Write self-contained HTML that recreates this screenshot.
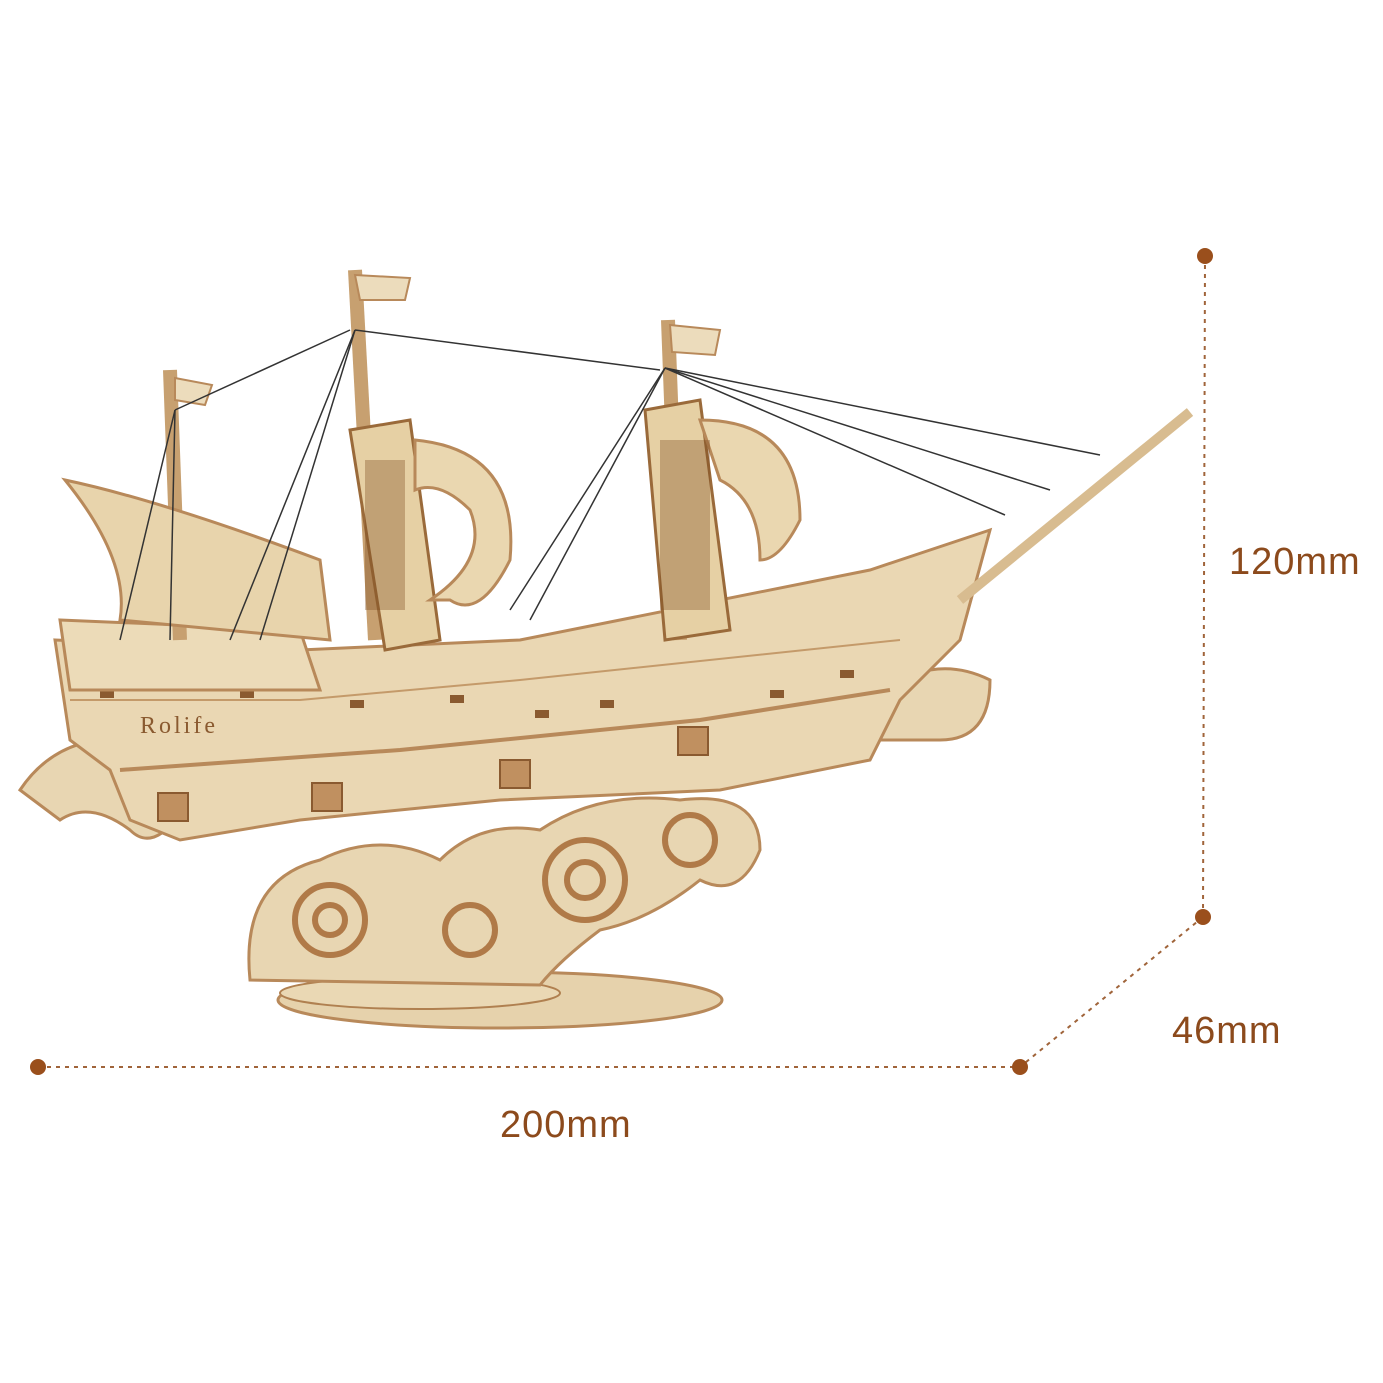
<!DOCTYPE html>
<html><head><meta charset="utf-8"><style>
html,body{margin:0;padding:0;background:#fff;}
.t{position:absolute;font-family:"Liberation Sans",sans-serif;font-size:38px;letter-spacing:1px;color:#8c4a1c;}
</style></head><body>
<div style="position:relative;width:1383px;height:1383px;overflow:hidden;">
<svg width="1383" height="1383" viewBox="0 0 1383 1383" style="position:absolute;left:0;top:0">
<g stroke="#a0643a" stroke-width="2" stroke-dasharray="4,5" fill="none">
<line x1="1205" y1="256" x2="1203" y2="917"/>
<line x1="1203" y1="917" x2="1020" y2="1067"/>
<line x1="38" y1="1067" x2="1020" y2="1067"/>
</g>
<g fill="#9a4f1c">
<circle cx="1205" cy="256" r="8"/><circle cx="1203" cy="917" r="8"/>
<circle cx="1020" cy="1067" r="8"/><circle cx="38" cy="1067" r="8"/>
</g>
<ellipse cx="500" cy="1000" rx="222" ry="28" fill="#e6d2ac" stroke="#b8895a" stroke-width="3"/>
<ellipse cx="420" cy="993" rx="140" ry="16" fill="#ead8b4" stroke="#b08050" stroke-width="2"/>
<path d="M250 980 Q240 880 320 860 Q380 830 440 860 Q480 820 540 830 Q600 790 680 800 Q760 790 760 850 Q740 900 700 880 Q650 920 600 930 Q560 960 540 985 Z" fill="#e8d6b2" stroke="#b8895a" stroke-width="3"/>
<g fill="none" stroke="#b07a48" stroke-width="6">
<circle cx="330" cy="920" r="35"/><circle cx="330" cy="920" r="15"/>
<circle cx="585" cy="880" r="40"/><circle cx="585" cy="880" r="18"/>
<circle cx="470" cy="930" r="25"/><circle cx="690" cy="840" r="25"/>
</g>
<path d="M20 790 Q60 730 140 740 L200 780 Q160 860 130 830 Q90 800 60 820 Z" fill="#e8d6b2" stroke="#b8895a" stroke-width="3"/>
<path d="M870 700 Q930 650 990 680 Q990 740 940 740 L880 740 Z" fill="#e8d6b2" stroke="#b8895a" stroke-width="3"/>
<path d="M55 640 L300 650 L520 640 L870 570 L990 530 L960 640 L900 700 L870 760 L720 790 L500 800 L300 820 L180 840 L130 820 L110 770 L70 740 Z" fill="#ead7b3" stroke="#b8895a" stroke-width="3"/>
<path d="M120 770 L400 750 L700 720 L890 690" stroke="#b8895a" stroke-width="4" fill="none"/>
<path d="M70 700 L300 700 L520 680 L900 640" stroke="#c49a6a" stroke-width="2" fill="none"/>
<g fill="#c09060" stroke="#8a5a30" stroke-width="2">
<rect x="158" y="793" width="30" height="28"/><rect x="312" y="783" width="30" height="28"/>
<rect x="500" y="760" width="30" height="28"/><rect x="678" y="727" width="30" height="28"/>
</g>
<g fill="#8a5a30">
<rect x="100" y="690" width="14" height="8"/><rect x="240" y="690" width="14" height="8"/><rect x="350" y="700" width="14" height="8"/>
<rect x="450" y="695" width="14" height="8"/><rect x="535" y="710" width="14" height="8"/><rect x="600" y="700" width="14" height="8"/><rect x="770" y="690" width="14" height="8"/><rect x="840" y="670" width="14" height="8"/>
</g>
<text x="140" y="733" font-family="Liberation Serif,serif" font-size="24" fill="#8a5a30" letter-spacing="3">Rolife</text>
<path d="M60 620 L300 630 L320 690 L70 690 Z" fill="#ecdbb8" stroke="#b8895a" stroke-width="3"/>
<g stroke="#c7a070" stroke-width="14"><line x1="170" y1="370" x2="180" y2="640"/><line x1="355" y1="270" x2="375" y2="640"/><line x1="668" y1="320" x2="680" y2="640"/></g>
<path d="M1190 412 L960 600" stroke="#d8bc90" stroke-width="10"/>
<path d="M65 480 Q160 500 320 560 L330 640 L120 620 Q130 560 65 480 Z" fill="#e8d4ac" stroke="#b8895a" stroke-width="3"/>
<path d="M350 430 L410 420 L440 640 L385 650 Z" fill="#e6d0a4" stroke="#9a6a3a" stroke-width="3"/>
<path d="M415 440 Q520 450 510 560 Q480 620 450 600 L430 600 Q490 560 470 510 Q440 480 415 490 Z" fill="#ead7b0" stroke="#b8895a" stroke-width="3"/>
<path d="M645 410 L700 400 L730 630 L665 640 Z" fill="#e6d0a4" stroke="#9a6a3a" stroke-width="3"/>
<path d="M700 420 Q800 420 800 520 Q780 560 760 560 Q760 500 720 480 Z" fill="#ead7b0" stroke="#b8895a" stroke-width="3"/>
<g fill="#7a4a20">
<rect x="365" y="460" width="40" height="150" opacity="0.35"/>
<rect x="660" y="440" width="50" height="170" opacity="0.35"/>
</g>
<path d="M175 378 L212 385 L205 405 L175 400 Z" fill="#ecdcbc" stroke="#b8895a" stroke-width="2"/>
<path d="M355 275 L410 278 L405 300 L360 300 Z" fill="#ecdcbc" stroke="#b8895a" stroke-width="2"/>
<path d="M670 325 L720 330 L715 355 L672 352 Z" fill="#ecdcbc" stroke="#b8895a" stroke-width="2"/>
<g stroke="#333" stroke-width="1.5" fill="none">
<line x1="355" y1="330" x2="660" y2="370"/><line x1="665" y1="368" x2="1100" y2="455"/>
<line x1="665" y1="368" x2="1050" y2="490"/><line x1="665" y1="368" x2="1005" y2="515"/>
<line x1="355" y1="330" x2="260" y2="640"/><line x1="355" y1="330" x2="230" y2="640"/>
<line x1="175" y1="410" x2="120" y2="640"/><line x1="175" y1="410" x2="170" y2="640"/>
<line x1="350" y1="330" x2="175" y2="410"/><line x1="665" y1="368" x2="510" y2="610"/>
<line x1="665" y1="368" x2="530" y2="620"/>
</g>
</svg>
<div class="t" style="left:1229px;top:541px">120mm</div>
<div class="t" style="left:1172px;top:1010px">46mm</div>
<div class="t" style="left:500px;top:1104px">200mm</div>
</div>
</body></html>
